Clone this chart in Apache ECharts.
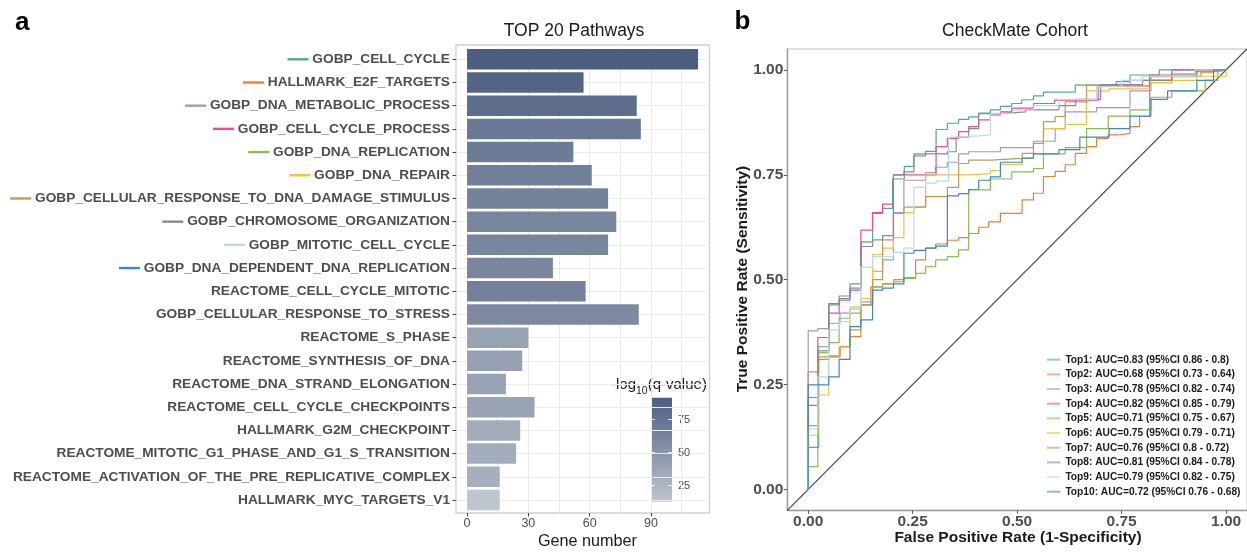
<!DOCTYPE html>
<html>
<head>
<meta charset="utf-8">
<script src="https://cdn.jsdelivr.net/npm/echarts@6/dist/echarts.min.js"></script>
<style>
  html, body { margin: 0; padding: 0; background: #fff; }
  #chart { width: 1247px; height: 554px; }
</style>
</head>
<body>
<div id="chart"></div>
<script>
// ---------- Panel a: enriched pathways ----------
const pathways = [
  'GOBP_CELL_CYCLE', 'HALLMARK_E2F_TARGETS', 'GOBP_DNA_METABOLIC_PROCESS', 'GOBP_CELL_CYCLE_PROCESS',
  'GOBP_DNA_REPLICATION', 'GOBP_DNA_REPAIR', 'GOBP_CELLULAR_RESPONSE_TO_DNA_DAMAGE_STIMULUS',
  'GOBP_CHROMOSOME_ORGANIZATION', 'GOBP_MITOTIC_CELL_CYCLE', 'GOBP_DNA_DEPENDENT_DNA_REPLICATION',
  'REACTOME_CELL_CYCLE_MITOTIC', 'GOBP_CELLULAR_RESPONSE_TO_STRESS', 'REACTOME_S_PHASE',
  'REACTOME_SYNTHESIS_OF_DNA', 'REACTOME_DNA_STRAND_ELONGATION', 'REACTOME_CELL_CYCLE_CHECKPOINTS',
  'HALLMARK_G2M_CHECKPOINT', 'REACTOME_MITOTIC_G1_PHASE_AND_G1_S_TRANSITION',
  'REACTOME_ACTIVATION_OF_THE_PRE_REPLICATIVE_COMPLEX', 'HALLMARK_MYC_TARGETS_V1'
];
const geneCounts = [113, 57, 83, 85, 52, 61, 69, 73, 69, 42, 58, 84, 30, 27, 19, 33, 26, 24, 16, 16];
const qValues = [91.7, 87, 80, 72, 69, 67, 64, 62, 62, 61, 66, 59, 40, 41, 40, 39, 33, 32, 30, 12.9];
const geneTicks = [0, 30, 60, 90];
const geneGridLines = [0, 15, 30, 45, 60, 75, 90, 105];
const qTicks = [25, 50, 75];

// ---------- Panel b: ROC curves (FPR, TPR) ----------
const rocLabels = [
  'Top1: AUC=0.83 (95%CI 0.86 - 0.8)',
  'Top2: AUC=0.68 (95%CI 0.73 - 0.64)',
  'Top3: AUC=0.78 (95%CI 0.82 - 0.74)',
  'Top4: AUC=0.82 (95%CI 0.85 - 0.79)',
  'Top5: AUC=0.71 (95%CI 0.75 - 0.67)',
  'Top6: AUC=0.75 (95%CI 0.79 - 0.71)',
  'Top7: AUC=0.76 (95%CI 0.8 - 0.72)',
  'Top8: AUC=0.81 (95%CI 0.84 - 0.78)',
  'Top9: AUC=0.79 (95%CI 0.82 - 0.75)',
  'Top10: AUC=0.72 (95%CI 0.76 - 0.68)'
];
const rocColors = ['#4dae8b', '#ef7d3a', '#a496cf', '#ec4c9a', '#85bf50', '#f2c23c', '#c59850', '#8a8a8a', '#b8dbeb', '#3c89c2'];
const rateTicks = [0, 0.25, 0.5, 0.75, 1];

const top1 = [[0,0],[0,0.10],[0.025,0.33],[0.05,0.44],[0.075,0.455],[0.1,0.48],[0.127,0.59],[0.154,0.658],[0.178,0.67],[0.202,0.74],[0.23,0.77],[0.253,0.795],[0.281,0.806],[0.306,0.858],[0.333,0.873],[0.36,0.882],[0.384,0.888],[0.408,0.897],[0.436,0.905],[0.46,0.913],[0.487,0.92],[0.511,0.929],[0.539,0.938],[0.563,0.947],[0.639,0.964],[0.737,0.972],[0.77,0.988],[0.84,1],[1,1]];
const top2 = [[0,0],[0,0.28],[0.025,0.31],[0.05,0.318],[0.076,0.34],[0.1,0.364],[0.126,0.44],[0.15,0.483],[0.178,0.49],[0.205,0.5],[0.229,0.505],[0.257,0.547],[0.281,0.575],[0.305,0.585],[0.333,0.594],[0.36,0.6],[0.384,0.61],[0.408,0.625],[0.432,0.638],[0.46,0.658],[0.512,0.69],[0.539,0.706],[0.563,0.746],[0.591,0.758],[0.615,0.774],[0.639,0.801],[0.666,0.817],[0.69,0.837],[0.718,0.845],[0.742,0.849],[0.77,0.865],[0.793,0.889],[0.817,0.976],[0.87,0.985],[0.94,0.995],[0.97,1],[1,1]];
const top3 = [[0,0],[0,0.378],[0.023,0.383],[0.049,0.396],[0.076,0.42],[0.1,0.43],[0.126,0.447],[0.154,0.52],[0.178,0.547],[0.204,0.66],[0.229,0.737],[0.281,0.755],[0.305,0.768],[0.333,0.78],[0.36,0.8],[0.384,0.805],[0.46,0.815],[0.539,0.83],[0.591,0.86],[0.615,0.9],[0.69,0.91],[0.77,0.95],[0.82,0.97],[0.87,0.985],[0.93,1],[1,1]];
const top4 = [[0,0],[0,0.2],[0.023,0.362],[0.049,0.42],[0.074,0.451],[0.1,0.475],[0.126,0.618],[0.154,0.66],[0.178,0.68],[0.204,0.75],[0.306,0.817],[0.333,0.837],[0.36,0.853],[0.384,0.865],[0.408,0.881],[0.436,0.893],[0.46,0.9],[0.487,0.909],[0.539,0.92],[0.59,0.928],[0.694,0.962],[0.817,0.988],[0.87,1],[1,1]];
const top5 = [[0,0],[0,0.054],[0.023,0.326],[0.049,0.35],[0.074,0.408],[0.1,0.42],[0.126,0.44],[0.154,0.483],[0.178,0.49],[0.204,0.495],[0.229,0.503],[0.257,0.515],[0.281,0.531],[0.305,0.547],[0.333,0.555],[0.36,0.571],[0.384,0.714],[0.436,0.74],[0.487,0.757],[0.539,0.765],[0.563,0.8],[0.615,0.815],[0.666,0.86],[0.718,0.89],[0.77,0.905],[0.82,0.935],[0.87,0.95],[0.95,0.975],[0.98,1],[1,1]];
const top6 = [[0,0],[0,0.129],[0.023,0.225],[0.049,0.316],[0.074,0.34],[0.1,0.435],[0.126,0.455],[0.154,0.56],[0.178,0.575],[0.204,0.6],[0.229,0.66],[0.253,0.673],[0.281,0.75],[0.384,0.753],[0.436,0.76],[0.46,0.775],[0.512,0.79],[0.539,0.8],[0.563,0.86],[0.615,0.87],[0.666,0.95],[0.72,0.955],[0.82,0.97],[0.87,0.975],[0.93,0.985],[1,1]];
const top7 = [[0,0],[0,0.152],[0.023,0.316],[0.076,0.34],[0.1,0.38],[0.126,0.44],[0.154,0.5],[0.178,0.595],[0.204,0.658],[0.229,0.673],[0.281,0.698],[0.333,0.72],[0.36,0.777],[0.384,0.785],[0.436,0.789],[0.512,0.801],[0.539,0.825],[0.563,0.877],[0.591,0.889],[0.615,0.924],[0.666,0.964],[0.77,0.975],[0.82,0.984],[0.925,0.996],[0.98,1],[1,1]];
const top8 = [[0,0],[0,0.219],[0.023,0.34],[0.049,0.443],[0.074,0.461],[0.1,0.49],[0.126,0.579],[0.154,0.595],[0.178,0.605],[0.204,0.75],[0.229,0.757],[0.253,0.8],[0.333,0.805],[0.354,0.84],[0.384,0.86],[0.408,0.896],[0.46,0.9],[0.52,0.905],[0.6,0.915],[0.64,0.93],[0.7,0.965],[0.8,0.975],[0.87,0.99],[0.93,1],[1,1]];
const top9 = [[0,0],[0,0.144],[0.023,0.268],[0.049,0.38],[0.074,0.4],[0.1,0.43],[0.126,0.53],[0.154,0.555],[0.204,0.565],[0.229,0.575],[0.253,0.72],[0.281,0.73],[0.306,0.735],[0.336,0.84],[0.36,0.843],[0.408,0.845],[0.436,0.896],[0.49,0.905],[0.54,0.915],[0.6,0.93],[0.69,0.96],[0.75,0.975],[0.8,0.985],[0.925,1],[1,1]];
const top10 = [[0,0],[0,0.249],[0.049,0.268],[0.074,0.31],[0.1,0.388],[0.126,0.404],[0.154,0.475],[0.178,0.48],[0.204,0.49],[0.229,0.563],[0.253,0.57],[0.281,0.575],[0.306,0.58],[0.333,0.7],[0.36,0.705],[0.384,0.715],[0.408,0.737],[0.436,0.745],[0.46,0.78],[0.512,0.79],[0.539,0.8],[0.6,0.81],[0.65,0.84],[0.72,0.86],[0.77,0.89],[0.82,0.93],[0.86,0.95],[0.93,0.975],[0.97,1],[1,1]];
const rocCurves = [top1, top2, top3, top4, top5, top6, top7, top8, top9, top10];
const chanceLine = [[-0.05, -0.05], [1.05, 1.05]];

// ---------- styling ----------
const FONT = "'Liberation Sans', Arial, Helvetica, sans-serif";
const lowColor = '#bfc5ce';
const highColor = '#4c5e80';
const qMin = Math.min(...qValues);
const qMax = Math.max(...qValues);
const geneMin = -5.4, geneMax = 118.6;
const gridLineColor = '#ebebeb';
const labelGrey = '#4d4d4d';

// short coloured keys in front of the first ten pathway names
const markerRich = {};
rocColors.forEach((c, i) => {
  markerRich['m' + i] = { width: 21, height: 2.4, backgroundColor: c, verticalAlign: 'middle' };
});

const chart = echarts.init(document.getElementById('chart'), null, { renderer: 'canvas' });

const rocSeries = rocCurves.map((curve, i) => ({
  name: rocLabels[i],
  type: 'line',
  xAxisIndex: 3,
  yAxisIndex: 4,
  step: 'end',
  data: curve,
  showSymbol: false,
  symbol: 'none',
  lineStyle: { width: 1.2, color: rocColors[i] },
  itemStyle: { color: rocColors[i] },
  silent: true,
  z: 3
}));

const option = {
  animation: false,
  backgroundColor: '#ffffff',
  textStyle: { fontFamily: FONT },
  grid: [
    // 0: panel frame of the bar chart
    { left: 456, top: 45, width: 253.5, height: 468, show: true, borderColor: '#cfcfcf', borderWidth: 1.3, backgroundColor: 'transparent' },
    // 1: bar rows (category centres)
    { left: 456, top: 59.3, width: 253.5, height: 440.7, show: false },
    // 2: colour bar
    { left: 651, top: 397.7, width: 21, height: 104, show: true, borderWidth: 0,
      backgroundColor: new echarts.graphic.LinearGradient(0, 0, 0, 1, [
        { offset: 0, color: highColor }, { offset: 1, color: lowColor }
      ]) },
    // 3: ROC panel
    { left: 787.3, top: 49, width: 461.5, height: 461.3, show: true, borderColor: '#d4d4d4', borderWidth: 1.3 }
  ],
  xAxis: [
    { gridIndex: 0, type: 'value', min: geneMin, max: geneMax,
      axisLine: { show: false, onZero: false },
      axisTick: { show: true, customValues: geneTicks, length: 3.5, lineStyle: { color: '#444', width: 1 } },
      axisLabel: { customValues: geneTicks, color: labelGrey, fontSize: 12.5, margin: 4, fontFamily: FONT },
      splitLine: { show: false } },
    { gridIndex: 1, type: 'value', min: geneMin, max: geneMax, show: false },
    { gridIndex: 2, type: 'value', min: 0, max: 1, show: false },
    { gridIndex: 3, type: 'value', min: -0.05, max: 1.05,
      axisLine: { show: true, onZero: false, lineStyle: { color: '#999', width: 1.4 } },
      axisTick: { show: true, customValues: rateTicks, length: 3.5, lineStyle: { color: '#555', width: 1 } },
      axisLabel: { customValues: rateTicks, formatter: v => Number(v).toFixed(2), color: labelGrey, fontSize: 15.5, fontWeight: 'bold', margin: 3, fontFamily: FONT },
      splitLine: { show: false } }
  ],
  yAxis: [
    { gridIndex: 0, type: 'value', min: 0, max: 1, show: false },
    { gridIndex: 1, type: 'category', data: pathways, inverse: true, boundaryGap: false,
      axisLine: { show: false, onZero: false },
      axisTick: { show: true, interval: 0, length: 3.5, lineStyle: { color: '#444', width: 1 } },
      axisLabel: {
        interval: 0, margin: 6, color: labelGrey, fontSize: 13.7, fontWeight: 'bold', fontFamily: FONT,
        formatter: (value, index) => index < rocColors.length ? '{m' + index + '|} ' + value : value,
        rich: markerRich
      },
      splitLine: { show: true, interval: 0, lineStyle: { color: gridLineColor, width: 1 } } },
    { gridIndex: 2, type: 'value', min: qMin, max: qMax, position: 'right',
      axisLine: { show: false, onZero: false },
      axisTick: { show: true, inside: true, customValues: qTicks, length: 4, lineStyle: { color: 'rgba(255,255,255,0.85)', width: 0.9 } },
      axisLabel: { customValues: qTicks, color: labelGrey, fontSize: 11, margin: 6, fontFamily: FONT },
      splitLine: { show: false } },
    { gridIndex: 2, type: 'value', min: qMin, max: qMax, position: 'left',
      axisLine: { show: false, onZero: false },
      axisTick: { show: true, inside: true, customValues: qTicks, length: 4, lineStyle: { color: 'rgba(255,255,255,0.85)', width: 0.9 } },
      axisLabel: { show: false },
      splitLine: { show: false } },
    { gridIndex: 3, type: 'value', min: -0.05, max: 1.05,
      axisLine: { show: true, onZero: false, lineStyle: { color: '#999', width: 1.4 } },
      axisTick: { show: true, customValues: rateTicks, length: 3.5, lineStyle: { color: '#555', width: 1 } },
      axisLabel: { customValues: rateTicks, formatter: v => Number(v).toFixed(2), color: labelGrey, fontSize: 15.5, fontWeight: 'bold', margin: 4, fontFamily: FONT },
      splitLine: { show: false } }
  ],
  visualMap: [{
    type: 'continuous', show: false, seriesIndex: 0, dimension: 2,
    min: qMin, max: qMax, inRange: { color: [lowColor, highColor] }
  }],
  legend: {
    data: rocLabels, orient: 'vertical', left: 1047, top: 353.7, padding: 0,
    itemWidth: 13.4, itemHeight: 2, itemGap: 2.67, icon: 'rect', selectedMode: false,
    itemStyle: { opacity: 0.6 },
    textStyle: { fontSize: 10.2, fontWeight: 'bold', color: '#1a1a1a', fontFamily: FONT, lineHeight: 12 }
  },
  series: [
    {
      type: 'bar', xAxisIndex: 1, yAxisIndex: 1, barWidth: 20.5, clip: false, z: 3,
      encode: { x: 0, y: 1 },
      data: geneCounts.map((g, i) => [g, pathways[i], qValues[i]]),
      silent: true
    },
    {
      // vertical grid lines of the bar panel
      type: 'line', xAxisIndex: 0, yAxisIndex: 0, data: [[0, 0]], z: 1, silent: true,
      showSymbol: false, symbol: 'none', lineStyle: { opacity: 0 },
      markLine: {
        silent: true, symbol: 'none', z: 1, animation: false,
        label: { show: false },
        lineStyle: { color: gridLineColor, width: 1, type: 'solid' },
        data: geneGridLines.map(v => ({ xAxis: v }))
      }
    },
    {
      type: 'line', xAxisIndex: 3, yAxisIndex: 4, data: chanceLine, showSymbol: false, symbol: 'none',
      lineStyle: { color: '#444', width: 1.2 }, silent: true, z: 2
    },
    ...rocSeries
  ],
  graphic: [
    { type: 'text', x: 22.3, y: 22.6, style: { text: 'a', fontSize: 26, fontWeight: 'bold', fontFamily: FONT, fill: '#000', align: 'center', verticalAlign: 'middle' } },
    { type: 'text', x: 742.5, y: 22, style: { text: 'b', fontSize: 26, fontWeight: 'bold', fontFamily: FONT, fill: '#000', align: 'center', verticalAlign: 'middle' } },
    { type: 'text', x: 574, y: 31.2, style: { text: 'TOP 20 Pathways', fontSize: 17.5, fontFamily: FONT, fill: '#1a1a1a', align: 'center', verticalAlign: 'middle' } },
    { type: 'text', x: 1015, y: 31.2, style: { text: 'CheckMate Cohort', fontSize: 17.5, fontFamily: FONT, fill: '#1a1a1a', align: 'center', verticalAlign: 'middle' } },
    { type: 'text', x: 587.4, y: 541.6, style: { text: 'Gene number', fontSize: 16.2, fontFamily: FONT, fill: '#1a1a1a', align: 'center', verticalAlign: 'middle' } },
    { type: 'text', x: 1018, y: 537.4, style: { text: 'False Positive Rate (1-Specificity)', fontSize: 15.5, fontWeight: 'bold', fontFamily: FONT, fill: '#1a1a1a', align: 'center', verticalAlign: 'middle' } },
    { type: 'text', x: 743, y: 279, rotation: Math.PI / 2, style: { text: 'True Positive Rate (Sensitivity)', fontSize: 15.5, fontWeight: 'bold', fontFamily: FONT, fill: '#1a1a1a', align: 'center', verticalAlign: 'middle' } },
    { type: 'text', x: 611, y: 384.5, style: {
        text: '{b|-log}{s|10}{b|(q-value)}', fontFamily: FONT, fill: '#1a1a1a', align: 'left', verticalAlign: 'middle',
        rich: {
          b: { fontSize: 15, lineHeight: 18, verticalAlign: 'middle', fontFamily: FONT, fill: '#1a1a1a' },
          s: { fontSize: 10.5, lineHeight: 10.5, verticalAlign: 'bottom', fontFamily: FONT, fill: '#1a1a1a', padding: [0, 0, -3, 0] }
        } } }
  ]
};

chart.setOption(option);
</script>
</body>
</html>
